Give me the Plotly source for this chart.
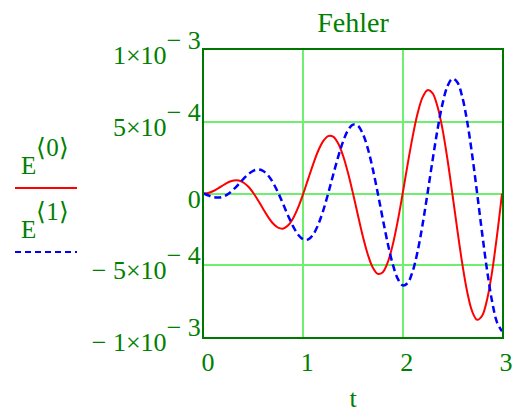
import plotly.graph_objects as go

# Sample times and the two error curves (values in units of 1e-4)
t = [round(0.05 * k, 2) for k in range(61)]

err0 = [0.00, 0.05, 0.19, 0.39, 0.61, 0.80, 0.91, 0.91, 0.75, 0.45,
        0.00, -0.54, -1.13, -1.68, -2.13, -2.40, -2.44, -2.20, -1.69, -0.94,
        0.00, 1.04, 2.07, 2.98, 3.65, 4.00, 3.96, 3.50, 2.63, 1.43,
        0.00, -1.53, -3.01, -4.27, -5.17, -5.60, -5.48, -4.79, -3.58, -1.93,
        0.00, 2.03, 3.95, 5.57, 6.70, 7.20, 7.00, 6.08, 4.52, 2.42,
        0.00, -2.52, -4.89, -6.86, -8.22, -8.80, -8.52, -7.38, -5.46, -2.92,
        0.00]

err1 = [0.00, -0.15, -0.26, -0.28, -0.20, 0.00, 0.30, 0.66, 1.04, 1.37,
        1.60, 1.67, 1.55, 1.22, 0.69, 0.00, -0.79, -1.60, -2.33, -2.89,
        -3.20, -3.20, -2.85, -2.16, -1.19, 0.00, 1.29, 2.54, 3.62, 4.41,
        4.80, 4.72, 4.14, 3.11, 1.68, 0.00, -1.78, -3.48, -4.92, -5.93,
        -6.40, -6.24, -5.44, -4.05, -2.18, 0.00, 2.27, 4.42, 6.21, 7.46,
        8.00, 7.76, 6.73, 4.99, 2.67, 0.00, -2.77, -5.36, -7.51, -8.98,
        -9.60]

scale = 1e-4

x_ticks = [0, 1, 2, 3]
y_ticks = [-1e-3, -5e-4, 0, 5e-4, 1e-3]

FS = 26


def sup(s, size=FS, lift=36):
    # full-size superscript; the outer span sets how far it is raised
    return ("<span style='font-size:%dpx'><sup><span style='font-size:%dpx'>%s"
            "</span></sup></span>" % (lift, size, s))


y_ticktext = [
    "\u2212 1\u00d710" + sup("\u2212 3"),
    "\u2212 5\u00d710" + sup("\u2212 4"),
    "0",
    "5\u00d710" + sup("\u2212 4"),
    "1\u00d710" + sup("\u2212 3"),
]

TXT = "rgb(0,128,0)"
GRID = "rgb(110,240,110)"
FRAME = "rgb(0,120,0)"
FONT = "Liberation Serif, Times New Roman, serif"

W, H = 512, 413
L, R, T, B = 204, 10, 50, 76
PW, PH = W - L - R, H - T - B


def px(x):
    return (x - L) / PW


def py(y):
    return (H - B - y) / PH


fig = go.Figure()
fig.add_trace(go.Scatter(x=t, y=[v * scale for v in err0], mode="lines",
                         line=dict(color="red", width=2, shape="spline"),
                         showlegend=False))
fig.add_trace(go.Scatter(x=t, y=[v * scale for v in err1], mode="lines",
                         line=dict(color="blue", width=2.5, dash="7px,4px",
                                   shape="spline"),
                         showlegend=False))

axis_common = dict(showgrid=True, gridcolor=GRID, gridwidth=2, automargin=False,
                   showline=True, linecolor=FRAME, linewidth=2, mirror=True,
                   zeroline=False, ticks="", ticklabeloverflow="allow",
                   tickfont=dict(family=FONT, size=FS, color=TXT))

fig.update_xaxes(range=[0, 3], tickvals=x_ticks, ticktext=[str(v) for v in x_ticks],
                 ticklabelshift=4, ticklabelstandoff=1,
                 title=dict(text="t", font=dict(family=FONT, size=FS, color=TXT), standoff=25),
                 **axis_common)
fig.update_yaxes(range=[-1e-3, 1e-3], tickvals=y_ticks, ticktext=y_ticktext,
                 ticklabelshift=5, ticklabelstandoff=-4,
                 **axis_common)

# Legend drawn beside the plot: label above a sample of each line
legend = [("E" + sup("\u27e80\u27e9", 25, 42), 174, 188, dict(color="red", width=2)),
          ("E" + sup("\u27e81\u27e9", 25, 42), 238, 252, dict(color="blue", width=2, dash="6px,4px"))]
for text, base, ly, line in legend:
    fig.add_annotation(text=text, xref="paper", yref="paper", x=px(19), y=py(base + 7),
                       xanchor="left", yanchor="bottom", showarrow=False,
                       font=dict(family=FONT, size=25, color=TXT))
    fig.add_shape(type="line", xref="paper", yref="paper", x0=px(15), x1=px(77),
                  y0=py(ly), y1=py(ly), line=line)

fig.update_layout(
    template="none",
    width=W, height=H, margin=dict(l=L, r=R, t=T, b=B, autoexpand=False),
    font=dict(family=FONT, size=FS, color=TXT),
    paper_bgcolor="white", plot_bgcolor="white",
    title=dict(text="Fehler", x=0.5, xref="paper", xanchor="center",
               y=1 - 22 / H, yref="container", yanchor="middle",
               font=dict(family=FONT, size=28, color=TXT)),
)

fig.write_html("out.html", post_script="document.body.style.margin='0';")
